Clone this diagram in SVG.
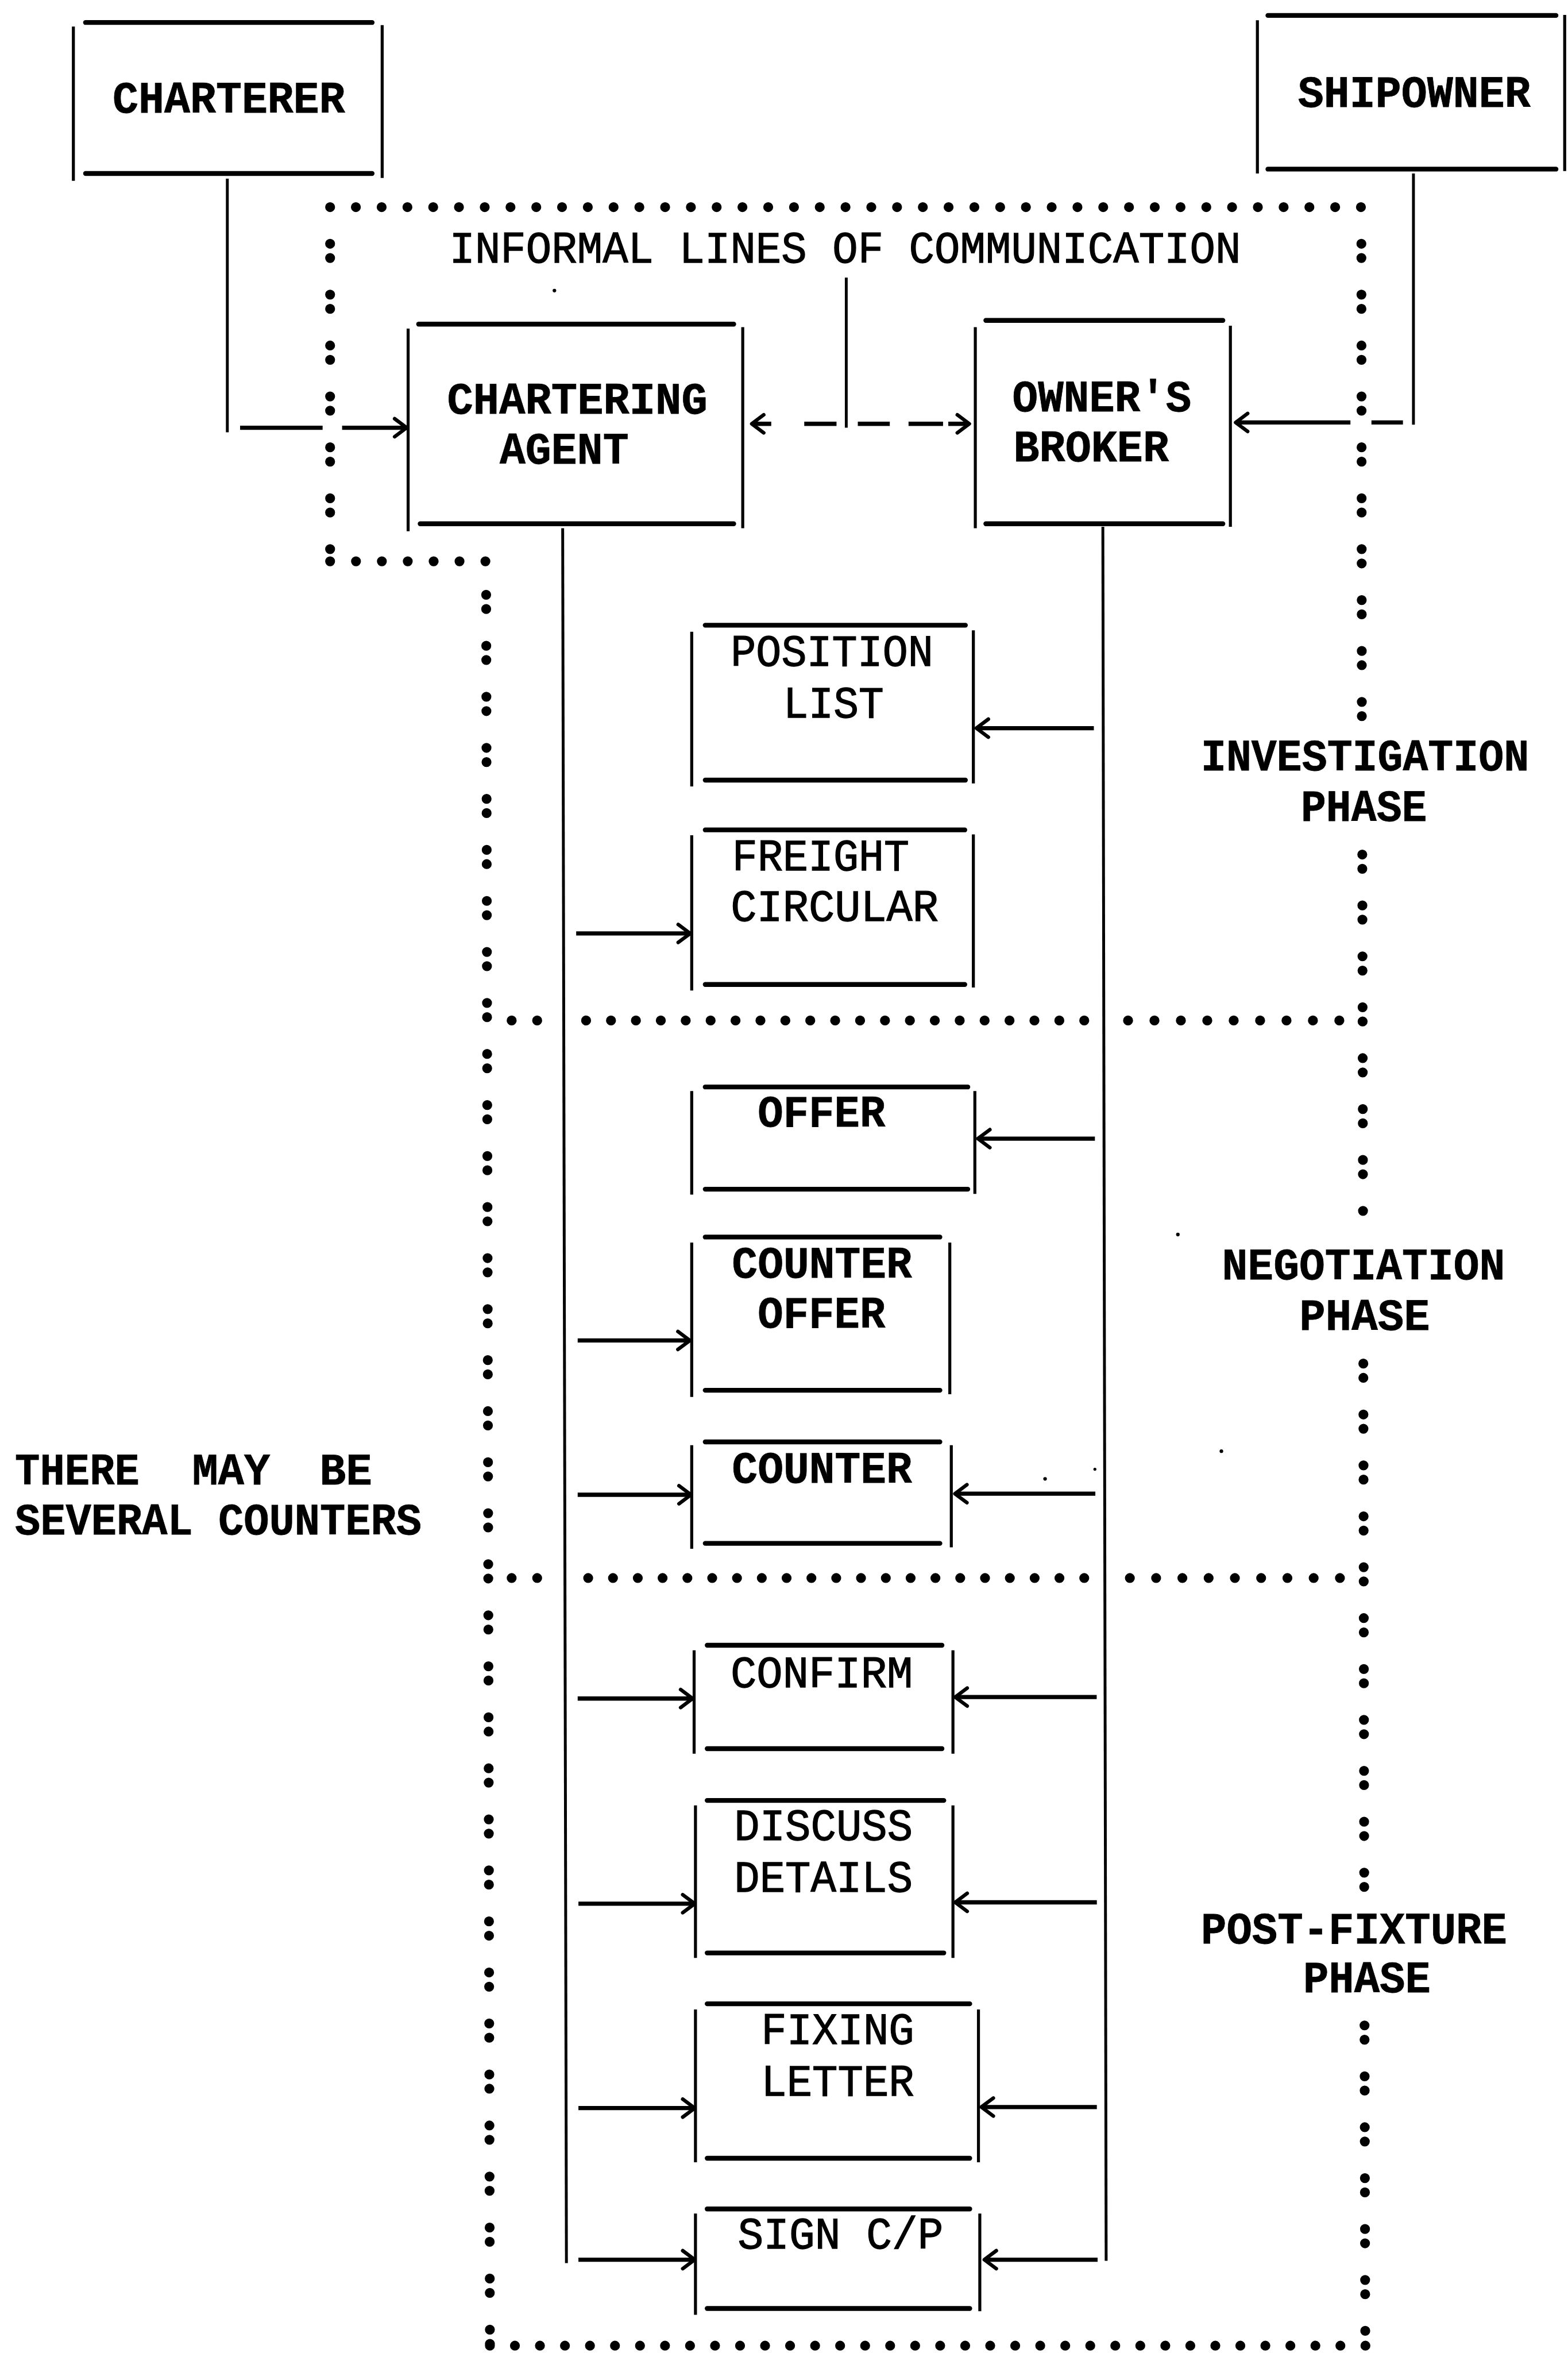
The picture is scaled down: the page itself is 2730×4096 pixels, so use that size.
<svg xmlns="http://www.w3.org/2000/svg" width="2730" height="4096" viewBox="0 0 2730 4096">
<style>
.h{stroke:#000;stroke-width:3.2;stroke-linecap:round}
.v{stroke:#000;stroke-width:2}
.ln{stroke:#000;stroke-width:1.9;fill:none}
.ar{stroke:#000;stroke-width:2.8;fill:none;marker-end:url(#ah)}
.dh{stroke:#000;stroke-width:6.6;stroke-linecap:round;fill:none}
.dv{stroke:#000;stroke-width:6.6;stroke-linecap:round;fill:none;stroke-dasharray:0 9.5 0 24.42}
text{font-family:"Liberation Mono","Courier New",monospace;font-size:30px;fill:#000;stroke:#000;stroke-width:0.5}
.b{font-weight:bold;stroke-width:0.3}
</style>
<defs>
<marker id="ah" markerUnits="userSpaceOnUse" viewBox="-10 -10 20 20" markerWidth="20" markerHeight="20" refX="0" refY="0" orient="auto" overflow="visible">
<path d="M-8,-6 L0,0 L-8,6" fill="none" stroke="#000" stroke-width="2.4" stroke-linecap="round" stroke-linejoin="round"/>
</marker>
</defs>
<rect width="2730" height="4096" fill="#fff"/>
<g transform="scale(2.61244)">
<g id="boundary">
<line class="dh" x1="220" y1="138" x2="907.5" y2="138" stroke-dasharray="0 17.175"/>
<line class="dv" x1="220" y1="162.4" x2="220" y2="374"/>
<line class="dh" x1="220" y1="374" x2="324" y2="374" stroke-dasharray="0 17.25"/>
<line class="dv" x1="324" y1="396.3" x2="326.5" y2="1562.3" style="stroke-dasharray:0 9.5 0 24.5"/>
<line class="dv" x1="907.3" y1="162.4" x2="907.6" y2="477.2"/>
<line class="dv" x1="907.9" y1="569.4" x2="908.4" y2="816.3"/>
<line class="dv" x1="908.6" y1="908.6" x2="909.2" y2="1257.3"/>
<line class="dv" x1="909.4" y1="1349.6" x2="909.9" y2="1562.6"/>
<line class="dh" x1="341" y1="680" x2="358.5" y2="680" stroke-dasharray="0 17"/>
<line class="dh" x1="390.6" y1="680" x2="723" y2="680" stroke-dasharray="0 16.6"/>
<line class="dh" x1="751.8" y1="680" x2="893" y2="680" stroke-dasharray="0 17.6"/>
<line class="dh" x1="341" y1="1051.5" x2="358.5" y2="1051.5" stroke-dasharray="0 17"/>
<line class="dh" x1="392" y1="1051.5" x2="723" y2="1051.5" stroke-dasharray="0 16.53"/>
<line class="dh" x1="753" y1="1051.5" x2="893.5" y2="1051.5" stroke-dasharray="0 17.5"/>
<line class="dh" x1="326.5" y1="1563" x2="910.5" y2="1563" stroke-dasharray="0 16.671"/>
</g>
<g id="connectors">
<path class="ln" d="M151.5,119 V288"/>
<line class="ln" x1="160" y1="285" x2="215" y2="285" style="stroke-width:2.8"/>
<line class="ar" x1="228" y1="285" x2="271" y2="285"/>
<path class="ln" d="M942,115.6 V283"/>
<line class="ln" x1="935" y1="281.5" x2="914" y2="281.5" style="stroke-width:2.8"/>
<line class="ar" x1="900" y1="281.5" x2="823.5" y2="281.5"/>
<line class="ln" x1="564" y1="185" x2="564" y2="285"/>
<line class="ar" x1="514" y1="282.4" x2="501" y2="282.4"/>
<line class="ln" x1="536" y1="282.4" x2="557.5" y2="282.4" style="stroke-width:2.8"/>
<line class="ln" x1="571.7" y1="282.4" x2="593" y2="282.4" style="stroke-width:2.8"/>
<line class="ln" x1="605.5" y1="282.4" x2="628.5" y2="282.4" style="stroke-width:2.8"/>
<line class="ar" x1="632" y1="282.4" x2="646" y2="282.4"/>
<line class="ln" x1="375" y1="352" x2="377.5" y2="1508"/>
<line class="ln" x1="735" y1="351" x2="737.2" y2="1506.4"/>
<line class="ar" x1="384" y1="622" x2="460" y2="622"/>
<line class="ar" x1="385" y1="893.2" x2="459.8" y2="893.2"/>
<line class="ar" x1="385" y1="996" x2="460.5" y2="996"/>
<line class="ar" x1="385" y1="1131.8" x2="461.6" y2="1131.8"/>
<line class="ar" x1="385.5" y1="1268.5" x2="463" y2="1268.5"/>
<line class="ar" x1="385.5" y1="1404.7" x2="463" y2="1404.7"/>
<line class="ar" x1="385.5" y1="1505.7" x2="463" y2="1505.7"/>
<line class="ar" x1="729" y1="485.2" x2="650.7" y2="485.2"/>
<line class="ar" x1="729.7" y1="758.7" x2="651.7" y2="758.7"/>
<line class="ar" x1="730" y1="995.3" x2="636.4" y2="995.3"/>
<line class="ar" x1="730.9" y1="1130.8" x2="636.6" y2="1130.8"/>
<line class="ar" x1="731" y1="1267.6" x2="636.6" y2="1267.6"/>
<line class="ar" x1="731" y1="1404" x2="654" y2="1404"/>
<line class="ar" x1="731.5" y1="1505.7" x2="656" y2="1505.7"/>
</g>
<g id="charterer">
<line class="h" x1="57" y1="15" x2="248" y2="15"/>
<line class="h" x1="57" y1="115.6" x2="248" y2="115.6"/>
<line class="v" x1="48.9" y1="17.7" x2="48.9" y2="120.5"/>
<line class="v" x1="254.7" y1="16.7" x2="254.7" y2="118.6"/>
<text class="b" x="75" y="75" textLength="155" lengthAdjust="spacingAndGlyphs">CHARTERER</text>
</g>
<g id="shipowner">
<line class="h" x1="845" y1="10.3" x2="1037" y2="10.3"/>
<line class="h" x1="845" y1="112.7" x2="1037" y2="112.7"/>
<line class="v" x1="838" y1="13.5" x2="838" y2="115.6"/>
<line class="v" x1="1042.8" y1="10" x2="1042.8" y2="114"/>
<text class="b" x="865" y="71.3" textLength="155" lengthAdjust="spacingAndGlyphs">SHIPOWNER</text>
</g>
<g id="informal-label">
<text x="299.5" y="175" textLength="527.5" lengthAdjust="spacingAndGlyphs">INFORMAL LINES OF COMMUNICATION</text>
</g>
<g id="chartering-agent">
<line class="h" x1="279" y1="216" x2="489" y2="216"/>
<line class="h" x1="280" y1="349" x2="489" y2="349"/>
<line class="v" x1="272" y1="219" x2="272" y2="354"/>
<line class="v" x1="495" y1="218" x2="495" y2="352"/>
<text class="b" x="298" y="275.5" textLength="173.5" lengthAdjust="spacingAndGlyphs">CHARTERING</text>
<text class="b" x="333" y="309" textLength="86" lengthAdjust="spacingAndGlyphs">AGENT</text>
</g>
<g id="owners-broker">
<line class="h" x1="657" y1="213.5" x2="815" y2="213.5"/>
<line class="h" x1="657" y1="349" x2="815" y2="349"/>
<line class="v" x1="650" y1="218" x2="650" y2="352"/>
<line class="v" x1="820" y1="217" x2="820" y2="351"/>
<text class="b" x="674.7" y="274" textLength="119.3" lengthAdjust="spacingAndGlyphs">OWNER'S</text>
<text class="b" x="675.4" y="307.5" textLength="103.6" lengthAdjust="spacingAndGlyphs">BROKER</text>
</g>
<g id="position-list">
<line class="h" x1="470" y1="416.6" x2="643.4" y2="416.6"/>
<line class="h" x1="470" y1="519.8" x2="643.4" y2="519.8"/>
<line class="v" x1="461" y1="421" x2="461" y2="524"/>
<line class="v" x1="648.7" y1="420" x2="648.7" y2="522"/>
<text x="487" y="443.5" textLength="135" lengthAdjust="spacingAndGlyphs">POSITION</text>
<text x="522" y="478" textLength="67" lengthAdjust="spacingAndGlyphs">LIST</text>
</g>
<g id="freight-circular">
<line class="h" x1="470" y1="553" x2="643" y2="553"/>
<line class="h" x1="470" y1="656" x2="643" y2="656"/>
<line class="v" x1="461" y1="556.6" x2="461" y2="660"/>
<line class="v" x1="648.7" y1="556" x2="648.7" y2="658"/>
<text x="488" y="580" textLength="118" lengthAdjust="spacingAndGlyphs">FREIGHT</text>
<text x="487" y="613.6" textLength="138.5" lengthAdjust="spacingAndGlyphs">CIRCULAR</text>
</g>
<g id="investigation-phase">
<text class="b" x="800.4" y="513.4" textLength="218.6" lengthAdjust="spacingAndGlyphs">INVESTIGATION</text>
<text class="b" x="867" y="547" textLength="84" lengthAdjust="spacingAndGlyphs">PHASE</text>
</g>
<g id="offer">
<line class="h" x1="470" y1="724.3" x2="645" y2="724.3"/>
<line class="h" x1="470" y1="792.4" x2="645" y2="792.4"/>
<line class="v" x1="461" y1="727" x2="461" y2="796"/>
<line class="v" x1="649.7" y1="727" x2="649.7" y2="795.5"/>
<text class="b" x="505" y="750.6" textLength="85" lengthAdjust="spacingAndGlyphs">OFFER</text>
</g>
<g id="counter-offer">
<line class="h" x1="470" y1="824.3" x2="626.4" y2="824.3"/>
<line class="h" x1="470" y1="926.4" x2="626.4" y2="926.4"/>
<line class="v" x1="461" y1="828" x2="461" y2="930.8"/>
<line class="v" x1="633" y1="828" x2="633" y2="929"/>
<text class="b" x="487.8" y="851.4" textLength="120" lengthAdjust="spacingAndGlyphs">COUNTER</text>
<text class="b" x="505" y="884.6" textLength="85" lengthAdjust="spacingAndGlyphs">OFFER</text>
</g>
<g id="counter">
<line class="h" x1="470" y1="960.8" x2="626.4" y2="960.8"/>
<line class="h" x1="470" y1="1028.4" x2="626.4" y2="1028.4"/>
<line class="v" x1="461" y1="963" x2="461" y2="1032"/>
<line class="v" x1="634" y1="963" x2="634" y2="1031"/>
<text class="b" x="487.8" y="988" textLength="120" lengthAdjust="spacingAndGlyphs">COUNTER</text>
</g>
<g id="negotiation-phase">
<text class="b" x="814.4" y="852.6" textLength="188.6" lengthAdjust="spacingAndGlyphs">NEGOTIATION</text>
<text class="b" x="866" y="886" textLength="87" lengthAdjust="spacingAndGlyphs">PHASE</text>
</g>
<g id="several-counters-note">
<text class="b" y="989"><tspan x="10" textLength="83" lengthAdjust="spacingAndGlyphs">THERE</tspan><tspan x="128" textLength="52" lengthAdjust="spacingAndGlyphs">MAY</tspan><tspan x="213" textLength="35" lengthAdjust="spacingAndGlyphs">BE</tspan></text>
<text class="b" x="10" y="1022.3" textLength="271" lengthAdjust="spacingAndGlyphs">SEVERAL COUNTERS</text>
</g>
<g id="confirm">
<line class="h" x1="471.3" y1="1096.3" x2="627.8" y2="1096.3"/>
<line class="h" x1="471.3" y1="1165.2" x2="627.8" y2="1165.2"/>
<line class="v" x1="462.6" y1="1099.6" x2="462.6" y2="1168.5"/>
<line class="v" x1="635.1" y1="1099.6" x2="635.1" y2="1168.5"/>
<text x="486.9" y="1124.2" textLength="121.5" lengthAdjust="spacingAndGlyphs">CONFIRM</text>
</g>
<g id="discuss-details">
<line class="h" x1="471.3" y1="1199.7" x2="629" y2="1199.7"/>
<line class="h" x1="471.3" y1="1301.3" x2="629" y2="1301.3"/>
<line class="v" x1="463.5" y1="1203" x2="463.5" y2="1304.6"/>
<line class="v" x1="635.1" y1="1203" x2="635.1" y2="1304.6"/>
<text x="489.3" y="1226" textLength="119" lengthAdjust="spacingAndGlyphs">DISCUSS</text>
<text x="489.3" y="1260.4" textLength="119" lengthAdjust="spacingAndGlyphs">DETAILS</text>
</g>
<g id="fixing-letter">
<line class="h" x1="471.3" y1="1335.2" x2="646.3" y2="1335.2"/>
<line class="h" x1="471.3" y1="1438.1" x2="646.3" y2="1438.1"/>
<line class="v" x1="463.5" y1="1339" x2="463.5" y2="1440.8"/>
<line class="v" x1="652.1" y1="1339" x2="652.1" y2="1440.8"/>
<text x="507.3" y="1362" textLength="102" lengthAdjust="spacingAndGlyphs">FIXING</text>
<text x="507.3" y="1396.5" textLength="102" lengthAdjust="spacingAndGlyphs">LETTER</text>
</g>
<g id="sign-cp">
<line class="h" x1="471.3" y1="1471.9" x2="646.3" y2="1471.9"/>
<line class="h" x1="471.3" y1="1538.2" x2="646.3" y2="1538.2"/>
<line class="v" x1="463.5" y1="1475" x2="463.5" y2="1542.4"/>
<line class="v" x1="653" y1="1475" x2="653" y2="1540"/>
<text x="491.7" y="1498.1" textLength="137" lengthAdjust="spacingAndGlyphs">SIGN C/P</text>
</g>
<g id="post-fixture-phase">
<text class="b" x="800.4" y="1294.8" textLength="204" lengthAdjust="spacingAndGlyphs">POST-FIXTURE</text>
<text class="b" x="868.5" y="1327.6" textLength="85" lengthAdjust="spacingAndGlyphs">PHASE</text>
</g>
<g id="specks" fill="#000">
<circle cx="369.5" cy="193.6" r="1.2"/>
<circle cx="785" cy="822.6" r="1.2"/>
<circle cx="814" cy="967" r="1.2"/>
<circle cx="696.5" cy="985.4" r="1.2"/>
<circle cx="729.7" cy="979" r="1"/>
</g>
</g>
</svg>
